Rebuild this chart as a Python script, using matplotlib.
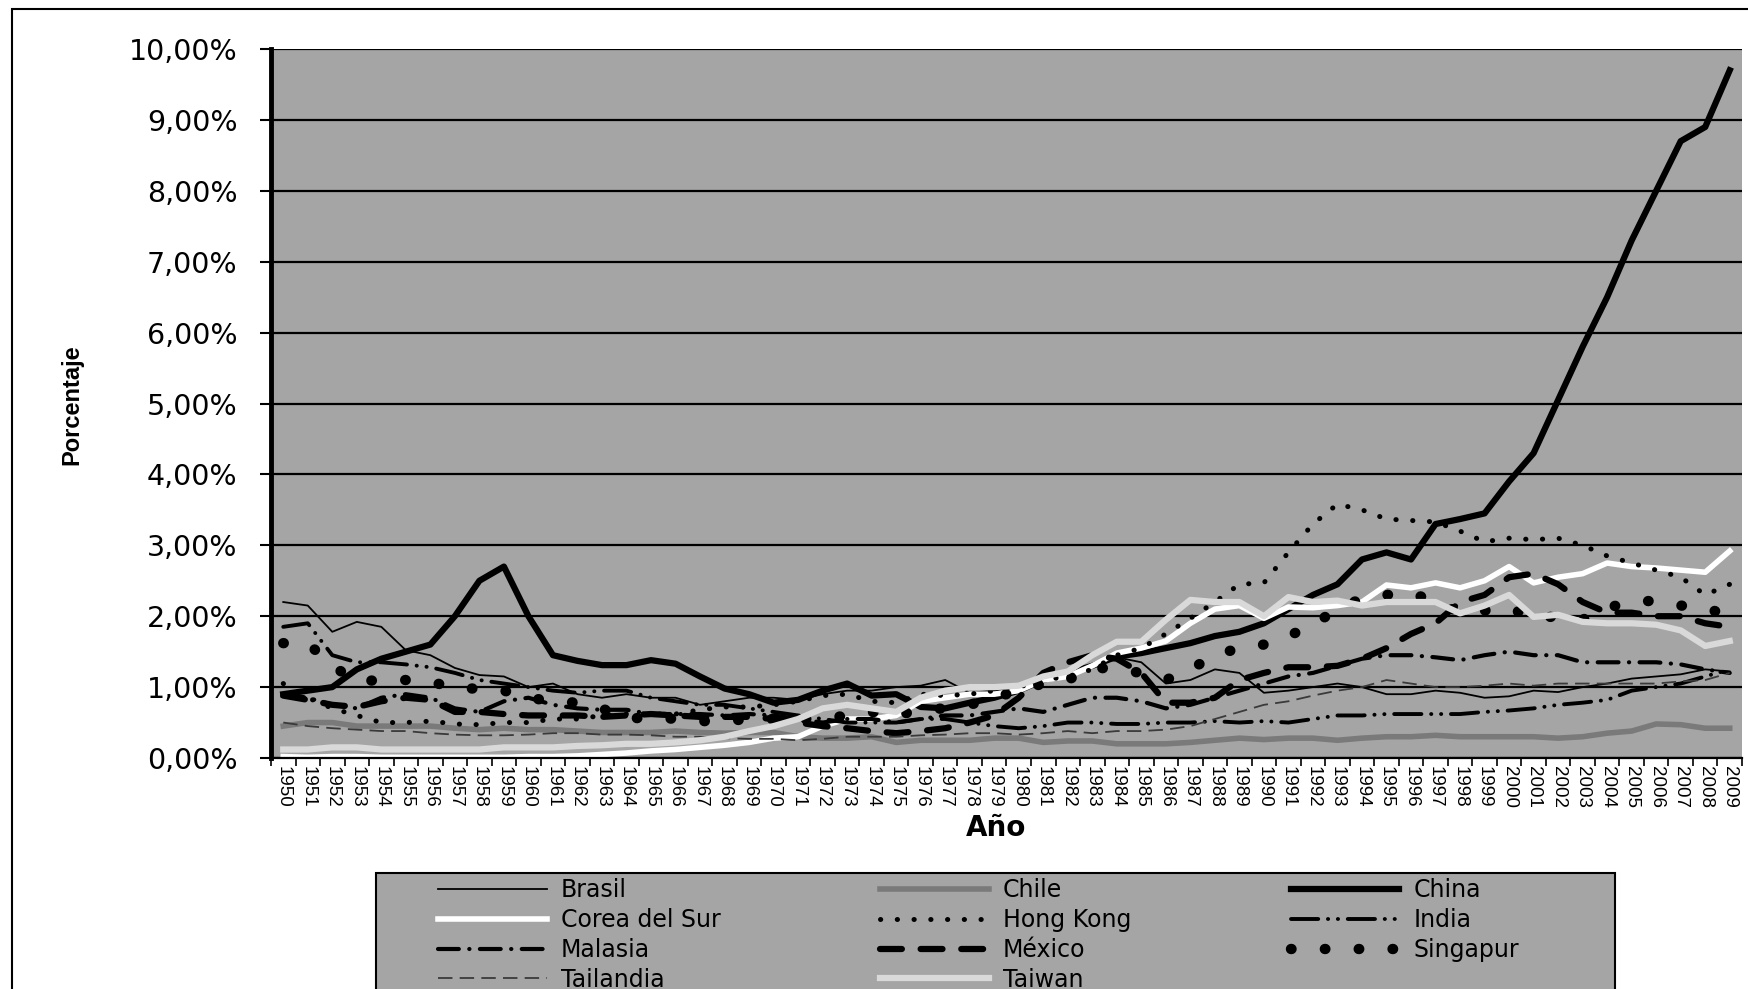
import numpy as np
import matplotlib
matplotlib.use("Agg")
import matplotlib.pyplot as plt
from matplotlib.patches import Rectangle

years = [str(y) for y in range(1950, 2010)]

brasil = [2.2, 2.15, 1.78, 1.92, 1.85, 1.52, 1.45, 1.27, 1.17, 1.15,
          1.0, 1.05, 0.9, 0.85, 0.9, 0.85, 0.85, 0.75, 0.8, 0.85,
          0.85, 0.82, 0.9, 0.95, 0.95, 1.0, 1.02, 1.1, 0.92, 0.95,
          1.0, 1.15, 1.2, 1.3, 1.42, 1.35, 1.05, 1.1, 1.25, 1.2,
          0.92, 0.95, 1.0, 1.05, 1.0, 0.9, 0.9, 0.95, 0.92, 0.85,
          0.87, 0.95, 0.93, 1.0, 1.05, 1.12, 1.15, 1.18, 1.25, 1.22]
chile = [0.45, 0.5, 0.5, 0.45, 0.45, 0.45, 0.45, 0.42, 0.4, 0.42,
         0.4, 0.4, 0.38, 0.36, 0.36, 0.36, 0.38, 0.36, 0.35, 0.36,
         0.36, 0.3, 0.28, 0.28, 0.3, 0.22, 0.25, 0.25, 0.25, 0.28,
         0.28, 0.22, 0.24, 0.24, 0.2, 0.2, 0.2, 0.22, 0.25, 0.28,
         0.26, 0.28, 0.28, 0.25, 0.28, 0.3, 0.3, 0.32, 0.3, 0.3,
         0.3, 0.3, 0.28, 0.3, 0.35, 0.38, 0.48, 0.47, 0.42, 0.42]
china = [0.9, 0.95, 1.0, 1.25, 1.4, 1.5, 1.6, 2.0, 2.5, 2.7,
         2.0, 1.45, 1.37, 1.31, 1.31, 1.38, 1.33, 1.15, 0.98, 0.9,
         0.78, 0.82, 0.95, 1.05, 0.88, 0.9, 0.72, 0.7, 0.78, 0.85,
         0.95, 1.1, 1.2, 1.3, 1.43, 1.48, 1.55, 1.62, 1.72, 1.78,
         1.9, 2.1, 2.3, 2.45, 2.8, 2.9, 2.8, 3.3, 3.37, 3.45,
         3.9, 4.3, 5.05, 5.8, 6.5, 7.3, 8.0, 8.7, 8.9, 9.7]
corea = [0.02, 0.01, 0.02, 0.02, 0.01, 0.01, 0.01, 0.01, 0.01, 0.01,
         0.02, 0.02, 0.03, 0.05, 0.07, 0.1, 0.12, 0.15, 0.18, 0.22,
         0.28, 0.3, 0.45, 0.55, 0.55, 0.6, 0.8, 0.85, 0.9, 0.9,
         0.95, 1.1, 1.15, 1.3, 1.48, 1.55, 1.65, 1.9, 2.1, 2.15,
         1.97, 2.13, 2.12, 2.15, 2.2, 2.44, 2.4, 2.47, 2.4, 2.5,
         2.7, 2.47, 2.55, 2.6, 2.75, 2.7, 2.68, 2.65, 2.62, 2.92]
hong_kong = [1.05, 0.85, 0.7, 0.6, 0.5, 0.5, 0.52, 0.48, 0.47, 0.5,
             0.5, 0.55, 0.55, 0.6, 0.62, 0.62, 0.62, 0.68, 0.72, 0.72,
             0.75, 0.8, 0.88, 0.9, 0.8, 0.78, 0.9, 0.88, 0.9, 0.95,
             1.0, 1.1, 1.15, 1.25, 1.45, 1.55, 1.75, 1.97, 2.2, 2.45,
             2.47, 2.9, 3.3, 3.58, 3.5, 3.37, 3.35, 3.33, 3.2, 3.05,
             3.1, 3.08, 3.1, 3.0, 2.85, 2.75, 2.65, 2.55, 2.3, 2.45]
india = [1.85, 1.9, 1.45, 1.35, 1.35, 1.32, 1.28, 1.2, 1.1, 1.05,
         1.0, 0.95, 0.92, 0.95, 0.95, 0.85, 0.8, 0.75, 0.75, 0.7,
         0.65, 0.6, 0.55, 0.5, 0.5, 0.5, 0.55, 0.55, 0.5, 0.45,
         0.42, 0.45, 0.5, 0.5, 0.48, 0.48, 0.5, 0.5, 0.52, 0.5,
         0.52, 0.5, 0.55, 0.6, 0.6, 0.62, 0.62, 0.62, 0.62, 0.65,
         0.67, 0.7, 0.75, 0.78, 0.82, 0.95, 1.0, 1.05, 1.15, 1.25]
malasia = [0.9, 0.85, 0.75, 0.7, 0.85, 0.9, 0.85, 0.7, 0.65, 0.8,
           0.85, 0.75, 0.7, 0.68, 0.68, 0.62, 0.62, 0.62, 0.6, 0.62,
           0.6, 0.55, 0.5, 0.55, 0.55, 0.5, 0.55, 0.6, 0.6, 0.65,
           0.7, 0.65, 0.75, 0.85, 0.85, 0.8, 0.7, 0.75, 0.85, 0.95,
           1.05, 1.15, 1.2, 1.3, 1.4, 1.45, 1.45, 1.42, 1.38, 1.45,
           1.5, 1.45, 1.45, 1.35, 1.35, 1.35, 1.35, 1.32, 1.25, 1.2]
mexico = [0.88, 0.82, 0.75, 0.72, 0.8, 0.85, 0.82, 0.65, 0.65, 0.62,
          0.6, 0.6, 0.6, 0.58, 0.6, 0.62, 0.6, 0.58, 0.58, 0.58,
          0.55, 0.5, 0.45, 0.42, 0.38, 0.35, 0.38, 0.42, 0.5, 0.6,
          0.85, 1.2, 1.35, 1.45, 1.4, 1.2, 0.78, 0.78, 0.85, 1.1,
          1.2, 1.28, 1.28, 1.3, 1.4, 1.55, 1.75, 1.9, 2.2, 2.3,
          2.55, 2.6, 2.45, 2.2, 2.05, 2.05, 2.0, 2.0, 1.9, 1.85]
singapur = [1.62, 1.62, 1.3, 1.08, 1.1, 1.1, 1.08, 0.98, 0.98, 0.95,
            0.85, 0.8, 0.78, 0.7, 0.55, 0.58, 0.55, 0.52, 0.52, 0.55,
            0.55, 0.55, 0.55, 0.6, 0.65, 0.6, 0.68, 0.7, 0.75, 0.85,
            0.95, 1.05, 1.1, 1.28, 1.25, 1.2, 1.1, 1.25, 1.45, 1.55,
            1.6, 1.72, 1.88, 2.1, 2.25, 2.3, 2.33, 2.2, 2.05, 2.08,
            2.12, 1.97, 2.0, 1.95, 2.12, 2.2, 2.22, 2.15, 2.12, 2.0]
tailandia = [0.5, 0.45, 0.42, 0.4, 0.38, 0.38, 0.35, 0.33, 0.32, 0.32,
             0.33, 0.35, 0.35, 0.33, 0.33, 0.32, 0.3, 0.3, 0.28, 0.27,
             0.27, 0.25, 0.27, 0.3, 0.3, 0.3, 0.32, 0.33, 0.35, 0.35,
             0.33, 0.35, 0.38, 0.35, 0.38, 0.38, 0.4, 0.45, 0.55, 0.65,
             0.75, 0.8, 0.88, 0.95, 1.0, 1.1, 1.05, 1.0, 1.0, 1.02,
             1.05, 1.02, 1.05, 1.05, 1.05, 1.05, 1.05, 1.08, 1.1, 1.2]
taiwan = [0.12, 0.12, 0.15, 0.15, 0.12, 0.12, 0.12, 0.12, 0.12, 0.15,
          0.15, 0.15, 0.17, 0.18, 0.2, 0.2, 0.22, 0.25, 0.3, 0.38,
          0.45, 0.55, 0.7, 0.75, 0.7, 0.65, 0.85, 0.95, 1.0, 1.0,
          1.02, 1.15, 1.22, 1.45, 1.64, 1.64, 1.95, 2.23, 2.2, 2.2,
          2.0, 2.27, 2.2, 2.22, 2.15, 2.2, 2.2, 2.2, 2.04, 2.15,
          2.3, 1.99, 2.02, 1.92, 1.9, 1.9, 1.88, 1.8, 1.58, 1.65]

narrow = ['Liberation Sans Narrow', 'Liberation Sans', 'DejaVu Sans']
plt.rcParams['font.family'] = ['DejaVu Sans']

W, H = 1749, 989
fig = plt.figure(figsize=(W / 100, H / 100), dpi=100)
ax = fig.add_axes([271/W, 1 - 758/H, (1742-271)/W, (758-49)/H])
ax.set_facecolor('#a5a5a5')

x = np.arange(len(years))
lines = {}
lines['Brasil'] = ax.plot(x, brasil, color='black', lw=1.3)[0]
lines['Chile'] = ax.plot(x, chile, color='#7a7a7a', lw=4)[0]
lines['China'] = ax.plot(x, china, color='black', lw=4.5)[0]
lines['Corea del Sur'] = ax.plot(x, corea, color='white', lw=4)[0]
lines['Hong Kong'] = ax.plot(x, hong_kong, color='black', lw=3.6,
                             dashes=(0.05, 3.3), dash_capstyle='round')[0]
lines['India'] = ax.plot(x, india, color='black', lw=2.8,
                         dashes=(7, 2.5, 0.05, 2.5, 0.05, 2.5), dash_capstyle='round')[0]
lines['Malasia'] = ax.plot(x, malasia, color='black', lw=3,
                           dashes=(5, 2.5, 0.05, 2.5), dash_capstyle='round')[0]
lines['México'] = ax.plot(x, mexico, color='black', lw=4.5,
                          dashes=(3.5, 3), dash_capstyle='round')[0]
lines['Singapur'] = ax.plot(x, singapur, color='black', lw=7.5,
                            dashes=(0.05, 3.2), dash_capstyle='round')[0]
lines['Tailandia'] = ax.plot(x, tailandia, color='#3a3a3a', lw=1.3, dashes=(8, 4))[0]
lines['Taiwan'] = ax.plot(x, taiwan, color='#d9d9d9', lw=4.5)[0]

ax.set_xlim(-0.5, len(years) - 0.5)
ax.set_ylim(0, 10)
ax.set_yticks(np.arange(0, 11, 1))
ax.set_yticklabels([('%.2f%%' % v).replace('.', ',') for v in range(11)], fontsize=20.5)
ax.yaxis.grid(True, color='black', lw=1.6)
ax.set_axisbelow(True)
ax.set_xticks(x)
ax.set_xticklabels(years, rotation=270, fontsize=13.5, family=narrow, va='top', ha='center')
ax.set_xticks(np.arange(-0.5, len(years), 1), minor=True)
ax.tick_params(axis='x', which='major', length=0, pad=6)
ax.tick_params(axis='x', which='minor', length=6, width=1.2, direction='out')
ax.tick_params(axis='y', length=8, width=1.5, direction='out', pad=16)
for s in ['top', 'right']:
    ax.spines[s].set_visible(False)
ax.spines['left'].set_linewidth(3.5)
ax.spines['bottom'].set_linewidth(1.6)

fig.text(72/W, 1 - 405/H, 'Porcentaje', rotation=90, fontsize=17, fontweight='bold',
         family=narrow, ha='center', va='center')
fig.text(996/W, 1 - 828/H, 'Año', fontsize=20, fontweight='bold',
         ha='center', va='center')

# legend box (Excel style, fixed width) drawn behind a frameless legend
fig.patches.append(Rectangle((376/W, -0.1), (1615-376)/W, 0.1 + 1 - 873/H,
                             transform=fig.transFigure, fc='#a5a5a5', ec='black', lw=1.5))
order = ['Brasil', 'Corea del Sur', 'Malasia', 'Tailandia',
         'Chile', 'Hong Kong', 'México', 'Taiwan',
         'China', 'India', 'Singapur']
leg = fig.legend([lines[k] for k in order], order, ncol=3, loc='upper left',
                 bbox_to_anchor=(438/W, 1 - 878/H, (1519-438)/W, 0), mode='expand',
                 borderaxespad=0, borderpad=0, fontsize=17, handlelength=4.6,
                 handletextpad=0.6, labelspacing=0.25, frameon=False)

fig.patches.append(Rectangle((12/W, -0.1), 1.2, 1.1 - 9/H, transform=fig.transFigure,
                             fill=False, lw=1.5, ec='black'))

fig.savefig('out.png', dpi=100)
